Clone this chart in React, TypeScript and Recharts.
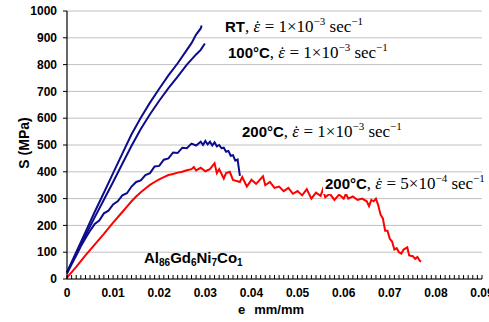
import { LineChart, Line, XAxis, YAxis, CartesianGrid } from "recharts"

// strain (mm/mm) and stress (MPa)
const rtStrain = [0, 0.002, 0.004, 0.006, 0.008, 0.01, 0.012, 0.014, 0.016, 0.018, 0.02, 0.022, 0.024, 0.026, 0.027, 0.028, 0.029, 0.0292]
const rtStress = [25, 100, 175, 250, 322, 395, 468, 540, 602, 658, 710, 760, 805, 855, 880, 912, 935, 946]

const t100Strain = [0, 0.002, 0.004, 0.006, 0.008, 0.01, 0.012, 0.014, 0.016, 0.018, 0.02, 0.022, 0.024, 0.026, 0.028, 0.029, 0.0299]
const t100Stress = [25, 95, 162, 230, 296, 362, 430, 497, 560, 615, 665, 712, 755, 800, 838, 855, 879]

const t200fastStrain = [0, 0.001, 0.002, 0.003, 0.004, 0.005, 0.006, 0.007, 0.008, 0.009, 0.01, 0.011, 0.012, 0.013, 0.014, 0.015, 0.016, 0.017, 0.018, 0.019, 0.02, 0.021, 0.022, 0.023, 0.024, 0.025, 0.026, 0.027, 0.028, 0.029, 0.0295, 0.03, 0.0305, 0.031, 0.0315, 0.032, 0.0325, 0.033, 0.0335, 0.034, 0.0345, 0.035, 0.0355, 0.036, 0.0365, 0.037, 0.0372, 0.0375]
const t200fastStress = [20, 55, 88, 122, 152, 180, 205, 218, 245, 255, 278, 290, 312, 320, 345, 362, 368, 388, 395, 420, 422, 445, 450, 472, 470, 490, 488, 505, 498, 512, 500, 515, 502, 512, 498, 510, 495, 500, 488, 490, 475, 478, 460, 462, 442, 446, 420, 385]

const t200slowStrain = [0, 0.002, 0.004, 0.006, 0.008, 0.01, 0.012, 0.013, 0.014, 0.015, 0.016, 0.017, 0.018, 0.019, 0.02, 0.021, 0.022, 0.023, 0.024, 0.025, 0.026, 0.027, 0.0275, 0.028, 0.029, 0.03, 0.031, 0.032, 0.0325, 0.033, 0.034, 0.0345, 0.0353, 0.036, 0.0375, 0.038, 0.039, 0.04, 0.041, 0.0425, 0.043, 0.044, 0.045, 0.046, 0.047, 0.048, 0.049, 0.05, 0.051, 0.052, 0.053, 0.054, 0.055, 0.0555, 0.056, 0.057, 0.058, 0.059, 0.06, 0.0605, 0.061, 0.062, 0.063, 0.064, 0.065, 0.0655, 0.066, 0.0665, 0.067, 0.0675, 0.068, 0.0685, 0.069, 0.0695, 0.07, 0.0705, 0.071, 0.0715, 0.072, 0.0725, 0.073, 0.0738, 0.0742, 0.075, 0.0755, 0.076, 0.0765, 0.0768]
const t200slowStress = [5, 45, 88, 128, 168, 210, 250, 270, 290, 308, 324, 338, 351, 362, 372, 380, 388, 392, 397, 400, 406, 410, 418, 405, 415, 402, 410, 432, 395, 410, 375, 395, 400, 370, 362, 380, 345, 370, 355, 383, 350, 362, 340, 345, 328, 340, 318, 328, 312, 335, 300, 322, 310, 335, 305, 318, 295, 315, 300, 318, 300, 308, 295, 300, 290, 272, 295, 290, 300, 275, 240, 226, 180, 180, 150, 140, 110, 115, 100, 95, 110, 118, 88, 85, 75, 82, 68, 65]

const xMinorTicks = Array.from({ length: 91 }, (_, i) => i / 1000)
const yTicks = [0, 100, 200, 300, 400, 500, 600, 700, 800, 900, 1000]

const pairs = (xs: number[], ys: number[]) => xs.map((e, i) => ({ e, s: ys[i] }))

const BLUE = "#0c0c8c"
const RED = "#ff0000"
const SANS = "Arial, 'Liberation Sans', sans-serif"
const SERIF = "'Times New Roman', 'Liberation Serif', serif"

// every 0.001 gets a short inward tick, every 0.01 also a label
const StrainTick = ({ x, y, payload }: any) => {
  const v = payload.value as number
  const major = Math.abs(v * 100 - Math.round(v * 100)) < 1e-6
  return (
    <g>
      <line x1={x} x2={x} y1={y - 9} y2={y - 13} stroke="#000" />
      {major && (
        <text x={x} y={y} dy="0.71em" textAnchor="middle" fontSize={12} fontWeight="bold" fontFamily={SANS} fill="#000">
          {String(Number(v.toFixed(2)))}
        </text>
      )}
    </g>
  )
}

function RateNote({ x, y, label, mant, exp }: { x: number; y: number; label: string; mant: string; exp: string }) {
  return (
    <text x={x} y={y} fontSize={15} fill="#000">
      <tspan fontFamily={SANS} fontWeight="bold">{label}</tspan>
      <tspan fontFamily={SERIF} fontSize={17}>{", "}</tspan>
      <tspan fontFamily={SERIF} fontSize={17} fontStyle="italic">{"\u03b5"}</tspan>
      <tspan fontFamily={SERIF} fontSize={17} dx={-5.5}>{"\u02d9"}</tspan>
      <tspan fontFamily={SERIF} fontSize={17}>{` = ${mant}\u00d710`}</tspan>
      <tspan fontFamily={SERIF} fontSize={11} dy={-7}>{exp}</tspan>
      <tspan fontFamily={SERIF} fontSize={17} dy={7}>{" sec"}</tspan>
      <tspan fontFamily={SERIF} fontSize={11} dy={-7}>{"\u22121"}</tspan>
    </text>
  )
}

export default function App() {
  const tickStyle = { fontSize: 12, fontWeight: "bold", fill: "#000", fontFamily: SANS }
  return (
    <div style={{ position: "absolute", left: 0, top: 0, width: 489, height: 322, background: "#fff" }}>
      <LineChart width={489} height={322} margin={{ top: 11, right: 7, left: 0, bottom: 0 }}>
        <CartesianGrid horizontal vertical={false} stroke="#c0c0c0" />
        <XAxis dataKey="e" type="number" domain={[0, 0.09]} ticks={xMinorTicks} interval={0} height={43} tickSize={0} tickMargin={9}
          tick={<StrainTick />} axisLine={{ stroke: "#000", strokeWidth: 1.2 }} tickLine={false} />
        <XAxis xAxisId="top" orientation="top" dataKey="e" type="number" domain={[0, 0.09]} height={0} tick={false}
          axisLine={{ stroke: "#000" }} tickLine={false} />
        <YAxis type="number" domain={[0, 1000]} ticks={yTicks} interval={0} width={67} tickSize={4} tickMargin={6} tick={tickStyle}
          axisLine={{ stroke: "#000", strokeWidth: 1.2 }} tickLine={{ stroke: "#000" }} />
        <YAxis yAxisId="right" orientation="right" type="number" domain={[0, 1000]} width={0} tick={false}
          axisLine={{ stroke: "#000" }} tickLine={false} />
        <Line data={pairs(rtStrain, rtStress)} dataKey="s" stroke={BLUE} strokeWidth={2} dot={false} isAnimationActive={false} />
        <Line data={pairs(t100Strain, t100Stress)} dataKey="s" stroke={BLUE} strokeWidth={2} dot={false} isAnimationActive={false} />
        <Line data={pairs(t200fastStrain, t200fastStress)} dataKey="s" stroke={BLUE} strokeWidth={2} dot={false} isAnimationActive={false} />
        <Line data={pairs(t200slowStrain, t200slowStress)} dataKey="s" stroke={RED} strokeWidth={2} dot={false} isAnimationActive={false} />
      </LineChart>
      <svg width={489} height={322} style={{ position: "absolute", left: 0, top: 0, pointerEvents: "none" }}>
        <text transform="translate(29,143) rotate(-90)" textAnchor="middle" fontFamily={SANS} fontWeight="bold" fontSize={14}>S (MPa)</text>
        <text x={238} y={314} fontFamily={SANS} fontWeight="bold" fontSize={13}>
          e<tspan dx={9}>mm/mm</tspan>
        </text>
        <text x={144} y={263} fontFamily={SANS} fontWeight="bold" fontSize={15}>
          Al<tspan fontSize={10} dy={3}>86</tspan><tspan dy={-3}>Gd</tspan><tspan fontSize={10} dy={3}>6</tspan>
          <tspan dy={-3}>Ni</tspan><tspan fontSize={10} dy={3}>7</tspan><tspan dy={-3}>Co</tspan><tspan fontSize={10} dy={3}>1</tspan>
        </text>
        <RateNote x={225} y={32} label="RT" mant="1" exp={"\u22123"} />
        <RateNote x={228} y={58} label={"100\u00b0C"} mant="1" exp={"\u22123"} />
        <RateNote x={242} y={137} label={"200\u00b0C"} mant="1" exp={"\u22123"} />
        <rect x={323} y={174} width={170} height={20} fill="#fff" />
        <RateNote x={325} y={189} label={"200\u00b0C"} mant="5" exp={"\u22124"} />
      </svg>
    </div>
  )
}
